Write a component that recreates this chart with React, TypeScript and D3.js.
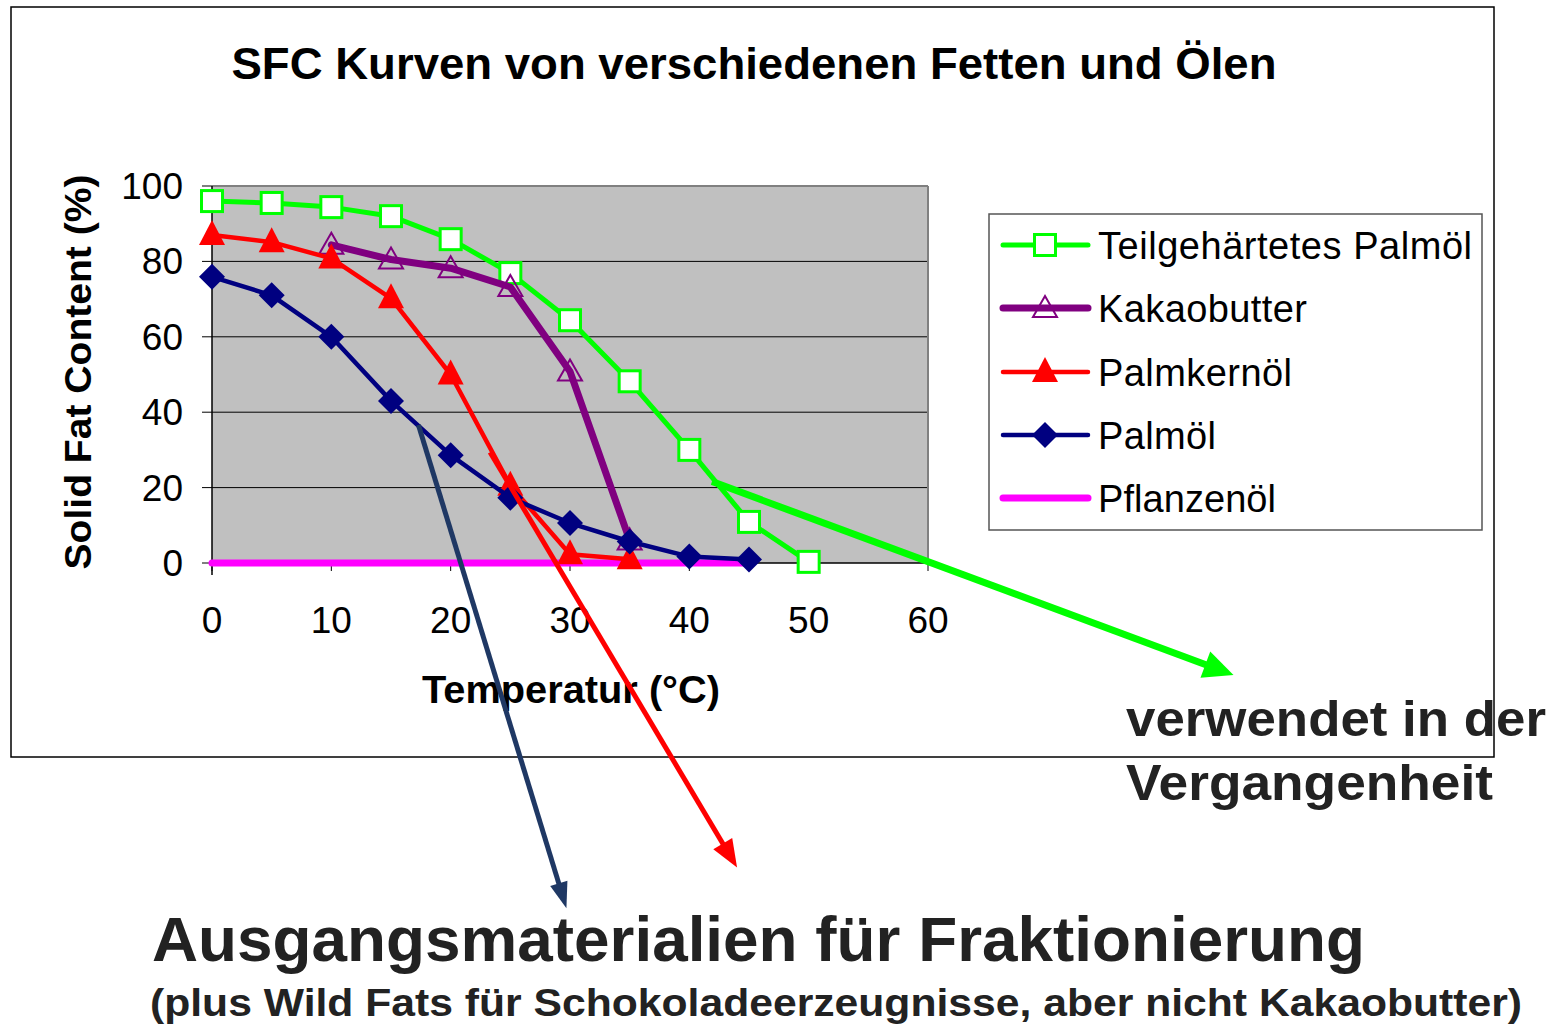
import React from "react";
import * as d3 from "d3";

const temps = [0, 5, 10, 15, 20, 25, 30, 35, 40, 45, 50];
const teilgehaertet = [96, 95.5, 94.4, 92, 85.9, 76.9, 64.4, 48.2, 30, 10.9, 0.3];
const kakaoTemps = [10, 15, 20, 25, 30, 35];
const kakaobutter = [84.4, 80.5, 78.2, 73.2, 50.8, 6];
const palmkernTemps = [0, 5, 10, 15, 20, 25, 30, 35];
const palmkernoel = [87, 85.1, 80.8, 70.2, 50, 20.5, 2.3, 1];
const palmTemps = [0, 5, 10, 15, 20, 25, 30, 35, 40, 45];
const palmoel = [75.9, 71, 60, 43, 28.6, 17.3, 10.6, 5.7, 1.7, 0.9];
const pflanzenTemps = [0, 5, 10, 15, 20, 25, 30, 35, 40, 45];
const pflanzenoel = [0, 0, 0, 0, 0, 0, 0, 0, 0, 0];

const xTicks = [0, 10, 20, 30, 40, 50, 60];
const yTicks = [0, 20, 40, 60, 80, 100];

const legendLabels = ["Teilgehärtetes Palmöl", "Kakaobutter", "Palmkernöl", "Palmöl", "Pflanzenöl"];

// annotation arrows in data coordinates [x0, y0, x1, y1]
const arrowNavy = [17.3, 36.6, 29.7, -91.6];
const arrowRed = [23.3, 29.4, 44.0, -80.8];
const arrowGreen = [41.9, 21.6, 85.6, -29.7];

const FONT = "'Liberation Sans', Arial, Helvetica, sans-serif";

type Series = {
  name: string;
  xs: number[];
  ys: number[];
  color: string;
  width: number;
  marker: "square" | "triangleOpen" | "triangle" | "diamond" | "none";
};

const series: Series[] = [
  { name: legendLabels[4], xs: pflanzenTemps, ys: pflanzenoel, color: "#ff00ff", width: 7, marker: "none" },
  { name: legendLabels[0], xs: temps, ys: teilgehaertet, color: "#00ff00", width: 5, marker: "square" },
  { name: legendLabels[1], xs: kakaoTemps, ys: kakaobutter, color: "#800080", width: 7, marker: "triangleOpen" },
  { name: legendLabels[2], xs: palmkernTemps, ys: palmkernoel, color: "#ff0000", width: 4.5, marker: "triangle" },
  { name: legendLabels[3], xs: palmTemps, ys: palmoel, color: "#000080", width: 4.5, marker: "diamond" },
];

function Marker({ type, x, y, color }: { type: string; x: number; y: number; color: string }) {
  if (type === "square") {
    return <rect x={x - 10.5} y={y - 10.5} width={21} height={21} fill="#fff" stroke={color} strokeWidth={3} />;
  }
  if (type === "triangleOpen") {
    return (
      <path d={`M${x},${y - 12} L${x + 12},${y + 9} L${x - 12},${y + 9} Z`} fill="none" stroke={color} strokeWidth={2} />
    );
  }
  if (type === "triangle") {
    return <path d={`M${x},${y - 15} L${x + 13},${y + 10} L${x - 13},${y + 10} Z`} fill={color} />;
  }
  if (type === "diamond") {
    return <path d={`M${x},${y - 13} L${x + 13},${y} L${x},${y + 13} L${x - 13},${y} Z`} fill={color} />;
  }
  return null;
}

function Arrow({ pts, x, y, color, width, headLen, headHalf }: any) {
  const x0 = x(pts[0]), y0 = y(pts[1]), x1 = x(pts[2]), y1 = y(pts[3]);
  const dx = x1 - x0, dy = y1 - y0;
  const L = Math.sqrt(dx * dx + dy * dy);
  const ux = dx / L, uy = dy / L;
  const bx = x1 - ux * headLen, by = y1 - uy * headLen;
  const px = -uy, py = ux;
  return (
    <g>
      <line x1={x0} y1={y0} x2={bx + ux * 2} y2={by + uy * 2} stroke={color} strokeWidth={width} />
      <path
        d={`M${x1},${y1} L${bx + px * headHalf},${by + py * headHalf} L${bx - px * headHalf},${by - py * headHalf} Z`}
        fill={color}
      />
    </g>
  );
}

export default function App() {
  const x = d3.scaleLinear().domain([0, 60]).range([212, 928]);
  const y = d3.scaleLinear().domain([0, 100]).range([563, 186]);
  const line = (xs: number[], ys: number[]) =>
    d3.line<number>().x((_, i) => x(xs[i])).y((d) => y(d))(ys) || "";

  const legendX = 989, legendY = 214, legendW = 493, legendH = 316;
  const legendRows = [245, 308, 372, 435, 498];
  const legendOrder = [1, 2, 3, 4, 0];
  const legendWidths = [374, 209, 194, 118, 178];

  return (
    <svg
      width={1554}
      height={1026}
      style={{ position: "absolute", left: 0, top: 0, background: "#fff" }}
      fontFamily={FONT}
    >
      {/* outer chart frame */}
      <rect x={11} y={7} width={1483} height={750} fill="#fff" stroke="#000" strokeWidth={1.5} />

      {/* title */}
      <text x={754} y={79} textAnchor="middle" fontSize={45} fontWeight="bold" textLength={1045} lengthAdjust="spacingAndGlyphs">
        SFC Kurven von verschiedenen Fetten und Ölen
      </text>

      {/* plot area */}
      <rect x={x(0)} y={y(100)} width={x(60) - x(0)} height={y(0) - y(100)} fill="#c0c0c0" />
      {yTicks.filter((t) => t > 0 && t < 100).map((t) => (
        <line key={t} x1={x(0)} x2={x(60)} y1={y(t)} y2={y(t)} stroke="#000" strokeWidth={1} />
      ))}
      <line x1={x(0)} x2={x(60)} y1={y(100)} y2={y(100)} stroke="#808080" strokeWidth={2} />
      <line x1={x(60)} x2={x(60)} y1={y(100)} y2={y(0)} stroke="#808080" strokeWidth={2} />
      <line x1={x(0)} x2={x(0)} y1={y(100)} y2={y(0) + 12} stroke="#000" strokeWidth={1.5} />
      <line x1={x(0)} x2={x(60)} y1={y(0)} y2={y(0)} stroke="#000" strokeWidth={1.5} />
      {yTicks.map((t) => (
        <g key={"yt" + t}>
          <line x1={x(0) - 10} x2={x(0)} y1={y(t)} y2={y(t)} stroke="#000" strokeWidth={1} />
          <text x={183} y={y(t) + 13} textAnchor="end" fontSize={37}>
            {t}
          </text>
        </g>
      ))}
      {xTicks.map((t) => (
        <g key={"xt" + t}>
          <line x1={x(t)} x2={x(t)} y1={y(0)} y2={y(0) + 8} stroke="#000" strokeWidth={1} />
          <text x={x(t)} y={633} textAnchor="middle" fontSize={37}>
            {t}
          </text>
        </g>
      ))}

      {/* axis titles */}
      <text x={571} y={703} textAnchor="middle" fontSize={38} fontWeight="bold" textLength={298} lengthAdjust="spacingAndGlyphs">
        Temperatur (°C)
      </text>
      <text
        transform={`translate(91,372) rotate(-90)`}
        textAnchor="middle"
        fontSize={37}
        fontWeight="bold"
        textLength={395}
        lengthAdjust="spacingAndGlyphs"
      >
        Solid Fat Content (%)
      </text>

      {/* series */}
      {series.map((s) => (
        <g key={s.name}>
          <path d={line(s.xs, s.ys)} fill="none" stroke={s.color} strokeWidth={s.width} strokeLinejoin="round" strokeLinecap="round" />
          {s.xs.map((t, i) => (
            <Marker key={i} type={s.marker} x={x(t)} y={y(s.ys[i])} color={s.color} />
          ))}
        </g>
      ))}

      {/* legend */}
      <rect x={legendX} y={legendY} width={legendW} height={legendH} fill="#fff" stroke="#555" strokeWidth={1.5} />
      {legendOrder.map((si, r) => {
        const s = series[si];
        const cy = legendRows[r];
        return (
          <g key={"lg" + r}>
            <line x1={1003} x2={1088} y1={cy} y2={cy} stroke={s.color} strokeWidth={s.width} strokeLinecap="round" />
            <Marker type={s.marker} x={1045} y={cy} color={s.color} />
            <text x={1098} y={cy + 14} fontSize={38} textLength={legendWidths[r]} lengthAdjust="spacing">
              {s.name}
            </text>
          </g>
        );
      })}

      {/* annotation arrows */}
      <Arrow pts={arrowNavy} x={x} y={y} color="#1f3864" width={5} headLen={26} headHalf={9} />
      <Arrow pts={arrowRed} x={x} y={y} color="#ff0000" width={5} headLen={28} headHalf={11} />
      <Arrow pts={arrowGreen} x={x} y={y} color="#00ff00" width={7} headLen={30} headHalf={14} />

      {/* annotation texts */}
      <text x={1126} y={736} fontSize={50} fontWeight="bold" fill="#222" textLength={420} lengthAdjust="spacingAndGlyphs">
        verwendet in der
      </text>
      <text x={1126} y={800} fontSize={50} fontWeight="bold" fill="#222" textLength={367} lengthAdjust="spacingAndGlyphs">
        Vergangenheit
      </text>
      <text x={152} y={961} fontSize={63} fontWeight="bold" fill="#222" textLength={1213} lengthAdjust="spacingAndGlyphs">
        Ausgangsmaterialien für Fraktionierung
      </text>
      <text x={150} y={1016} fontSize={39} fontWeight="bold" fill="#222" textLength={1372} lengthAdjust="spacingAndGlyphs">
        (plus Wild Fats für Schokoladeerzeugnisse, aber nicht Kakaobutter)
      </text>
    </svg>
  );
}
